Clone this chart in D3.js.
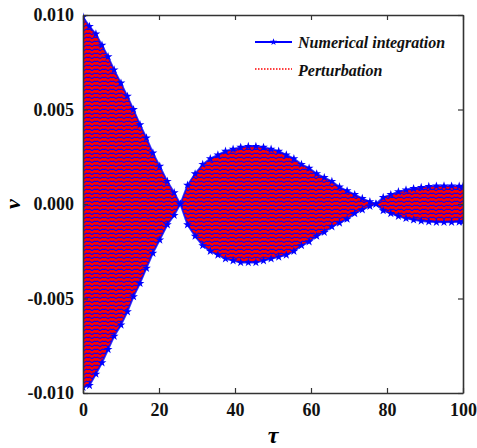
<!DOCTYPE html>
<html><head><meta charset="utf-8">
<script src="https://cdn.jsdelivr.net/npm/d3@7/dist/d3.min.js"></script>
<style>body{margin:0;background:#fff}svg{display:block}</style>
</head><body><svg id="c" width="477" height="448"></svg>
<script>
// Envelope of the oscillating response v(tau)
const tau = [0,1.7,3.4,5,6.6,8.2,10,11.7,13.3,15,16.7,18.4,20.2,22.2,24,25.6,27.5,29.5,31.5,33.5,35.5,37.5,39.5,41.5,43.5,45.5,47.5,49.5,51.5,53.5,55.5,57.5,59.5,61.5,63.5,65.5,67.5,69.5,71.5,73.5,75.5,77.1,79,81,83,85,87,89,91,93,95,97,99,100];
const upper = [0.0099,0.0094,0.0090,0.0084,0.0078,0.0071,0.0064,0.0057,0.0050,0.0042,0.0035,0.0027,0.0020,0.0012,0.0006,0.0000,0.0010,0.0016,0.0021,0.0024,0.0026,0.0028,0.0029,0.0030,0.00305,0.00305,0.0030,0.0029,0.0028,0.0026,0.0024,0.0021,0.0019,0.0016,0.0014,0.0012,0.0009,0.0007,0.0005,0.0003,0.00012,0.0000,0.00035,0.0005,0.00065,0.00075,0.00082,0.00088,0.00093,0.00095,0.00096,0.00095,0.00094,0.00093];
const lower = [-0.0097,-0.0096,-0.0090,-0.0084,-0.0077,-0.0070,-0.0064,-0.0057,-0.0049,-0.0042,-0.0034,-0.0026,-0.0019,-0.0011,-0.0006,0.0000,-0.0011,-0.0017,-0.0022,-0.0025,-0.0027,-0.0029,-0.0030,-0.0031,-0.0031,-0.0031,-0.0030,-0.0029,-0.0028,-0.0027,-0.0025,-0.0022,-0.0020,-0.0017,-0.0015,-0.0012,-0.0010,-0.0008,-0.0005,-0.0003,-0.00012,0.0000,-0.00035,-0.0005,-0.00065,-0.00076,-0.00084,-0.0009,-0.00094,-0.00096,-0.00097,-0.00096,-0.00095,-0.00094];
const xTicks = [0,20,40,60,80,100];
const yTicks = [-0.010,-0.005,0.000,0.005,0.010];
const legendLabels = ["Numerical integration","Perturbation"];

const data = tau.map((t,i)=>({t, hi: upper[i], lo: lower[i]}));
const svg = d3.select("#c");
const L=83,R=463,T=15,B=393;
const x = d3.scaleLinear().domain([0,100]).range([L,R]);
const y = d3.scaleLinear().domain([-0.010,0.010]).range([B,T]);
const BLUE="#0000ff", RED="#ff0000";

const defs = svg.append("defs");
const pat = defs.append("pattern").attr("id","stripes").attr("patternUnits","userSpaceOnUse")
  .attr("width",8).attr("height",4);
pat.append("rect").attr("width",8).attr("height",4).attr("fill",RED);
pat.append("path").attr("d","M-1,2 L1.5,1 L4,2.6 L6.5,1 L9,2")
  .attr("fill","none").attr("stroke",BLUE).attr("stroke-width",1.1);
defs.append("clipPath").attr("id","clip").append("rect")
  .attr("x",L).attr("y",T-6).attr("width",R-L+1).attr("height",B-T+12);

const g = svg.append("g").attr("clip-path","url(#clip)");
const area = d3.area().x(d=>x(d.t)).y0(d=>y(d.lo)).y1(d=>y(d.hi));
g.append("path").datum(data).attr("d",area).attr("fill","url(#stripes)");
// outer edges of numerical solution
const lineHi = d3.line().x(d=>x(d.t)).y(d=>y(d.hi));
const lineLo = d3.line().x(d=>x(d.t)).y(d=>y(d.lo));
[lineHi,lineLo].forEach(ln=>g.append("path").datum(data).attr("d",ln)
  .attr("fill","none").attr("stroke",BLUE).attr("stroke-width",1.8).attr("opacity",0.8));
const star = d3.symbol().type(d3.symbolStar).size(24);
["hi","lo"].forEach(k=>g.selectAll(".m"+k).data(data).join("path")
  .attr("transform",d=>`translate(${x(d.t)},${y(d[k])})`).attr("d",star).attr("fill",BLUE));

// axes
const font = "'Liberation Serif','Times New Roman',serif";
const ax = svg.append("g");
const fmtY = v => d3.format(".3f")(v).replace("\u2212","-");
ax.append("g").attr("transform",`translate(0,${B})`)
  .call(d3.axisBottom(x).tickValues(xTicks).tickSizeInner(-5).tickSizeOuter(0).tickPadding(10).tickFormat(d3.format("d")));
ax.append("g").attr("transform",`translate(0,${T})`)
  .call(d3.axisTop(x).tickValues(xTicks).tickSizeInner(-5).tickSizeOuter(0).tickFormat(""));
ax.append("g").attr("transform",`translate(${L},0)`)
  .call(d3.axisLeft(y).tickValues(yTicks).tickSizeInner(-5).tickSizeOuter(0).tickPadding(9).tickFormat(fmtY));
ax.append("g").attr("transform",`translate(${R},0)`)
  .call(d3.axisRight(y).tickValues(yTicks).tickSizeInner(-5).tickSizeOuter(0).tickFormat(""));
ax.selectAll("g").attr("font-family",font);
ax.selectAll(".domain").attr("stroke","#333").attr("stroke-width",1.6);
ax.selectAll(".tick line").attr("stroke","#333").attr("stroke-width",1.2);
ax.selectAll(".tick text").attr("font-size",18).attr("font-weight","bold").attr("fill","#111")
  .style("font-family",font);

svg.append("text").attr("x",273).attr("y",443).attr("text-anchor","middle")
  .style("font-family",font).attr("font-size",24).attr("font-weight","bold").attr("font-style","italic").text("τ");
svg.append("text").attr("transform","translate(20,204) rotate(-90)").attr("text-anchor","middle")
  .style("font-family",font).attr("font-size",22).attr("font-weight","bold").attr("font-style","italic").text("v");

// legend
const lg = svg.append("g").style("font-family",font);
lg.append("line").attr("x1",255).attr("x2",292).attr("y1",42).attr("y2",42).attr("stroke",BLUE).attr("stroke-width",2);
lg.append("path").attr("transform","translate(273.5,42)").attr("d",d3.symbol().type(d3.symbolStar).size(16)()).attr("fill",BLUE);
lg.append("line").attr("x1",255).attr("x2",292).attr("y1",69).attr("y2",69).attr("stroke",RED).attr("stroke-width",1.5).attr("stroke-dasharray","1.5,1.5");
lg.selectAll(".lt").data(legendLabels).join("text").attr("x",298).attr("y",(d,i)=>48+i*28)
  .attr("font-size",16).attr("font-weight","bold").attr("font-style","italic").attr("fill","#111").text(d=>d);
</script></body></html>
